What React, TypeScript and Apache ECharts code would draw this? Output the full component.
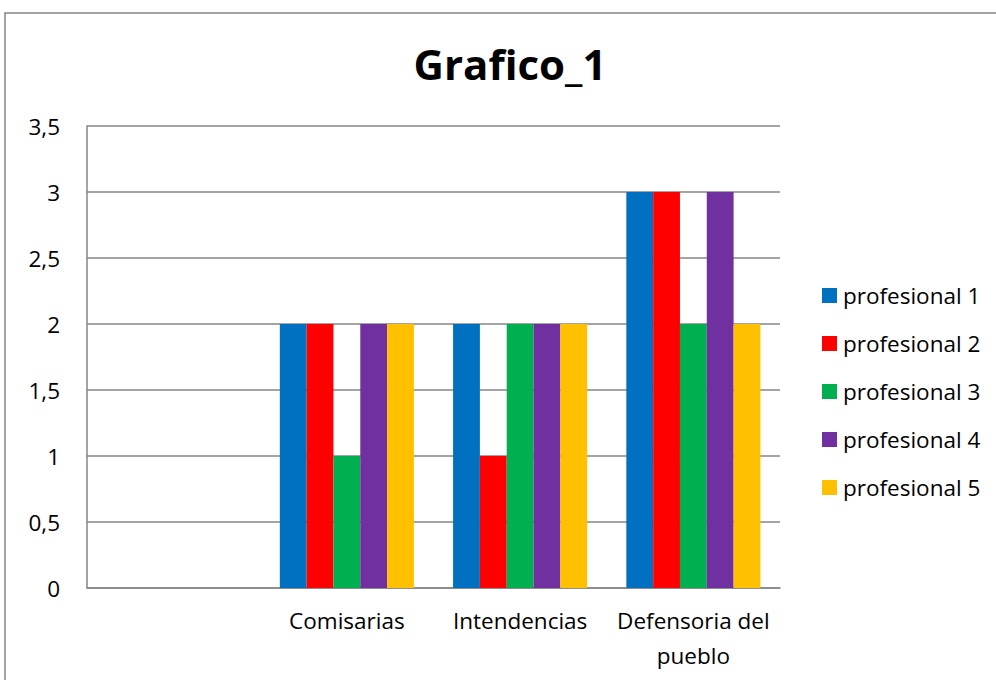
import React, { useEffect, useRef } from "react";
import * as echarts from "echarts";

const categories = ["", "Comisarias", "Intendencias", "Defensoria del\npueblo"];
const seriesNames = ["profesional 1", "profesional 2", "profesional 3", "profesional 4", "profesional 5"];
const profesional1 = [null, 2, 2, 3];
const profesional2 = [null, 2, 1, 3];
const profesional3 = [null, 1, 2, 2];
const profesional4 = [null, 2, 2, 3];
const profesional5 = [null, 2, 2, 2];
const seriesValues = [profesional1, profesional2, profesional3, profesional4, profesional5];
const colors = ["#0070C0", "#FF0000", "#00B050", "#7030A0", "#FFC000"];

const FONT = "'Open Sans', 'Noto Sans', sans-serif";

export default function App() {
  const ref = useRef<HTMLDivElement>(null);
  useEffect(() => {
    if (!ref.current) return;
    const chart = echarts.init(ref.current, null, { renderer: "svg" });
    chart.setOption({
      animation: false,
      backgroundColor: "#ffffff",
      textStyle: { fontFamily: FONT },
      title: {
        text: "Grafico_1",
        left: 505,
        top: 37,
        textAlign: "center",
        textStyle: { fontFamily: FONT, fontWeight: "bold", fontSize: 42, color: "#000" },
      },
      graphic: [
        {
          type: "rect",
          shape: { x: 5, y: 13, width: 1000, height: 700 },
          style: { fill: "none", stroke: "#868686", lineWidth: 1.5 },
          silent: true,
        },
      ],
      legend: {
        orient: "vertical",
        left: 817,
        top: 279,
        padding: 5,
        itemWidth: 15,
        itemHeight: 15,
        itemGap: 25,
        icon: "rect",
        data: seriesNames,
        textStyle: { fontFamily: FONT, fontSize: 22.5, color: "#000", lineHeight: 22, padding: [0, 0, 0, 1] },
      },
      grid: { left: 87, right: 216, top: 126, bottom: 92, containLabel: false },
      xAxis: {
        type: "category",
        data: categories,
        axisTick: { show: false },
        axisLine: { lineStyle: { color: "#868686", width: 1.5 } },
        axisLabel: {
          interval: 0,
          margin: 15,
          color: "#000",
          fontFamily: FONT,
          fontSize: 22.5,
          lineHeight: 35,
        },
      },
      yAxis: {
        type: "value",
        min: 0,
        max: 3.5,
        interval: 0.5,
        axisLine: { show: true, lineStyle: { color: "#868686", width: 1.5 } },
        axisTick: { show: false },
        splitLine: { lineStyle: { color: "#868686", width: 1.5 } },
        axisLabel: {
          margin: 27,
          color: "#000",
          fontFamily: FONT,
          fontSize: 22.5,
          formatter: (v: number) => String(v).replace(".", ","),
        },
      },
      series: seriesNames.map((name, i) => ({
        name,
        type: "bar",
        data: seriesValues[i],
        itemStyle: { color: colors[i] },
        barGap: "0%",
        barCategoryGap: "22.6%",
      })),
    });
    return () => chart.dispose();
  }, []);
  return <div ref={ref} style={{ width: 996, height: 680, position: "absolute", left: 0, top: 0 }} />;
}
